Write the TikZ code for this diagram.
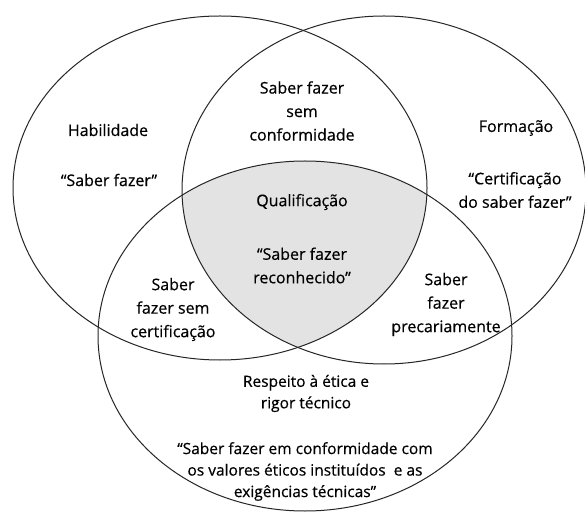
\documentclass[tikz,border=0pt]{standalone}
\usepackage{fontspec}
\setmainfont{Open Sans}
\newfontfamily\lblfont{Open Sans}[FakeBold=0.5]
\begin{document}
\begin{tikzpicture}[x=1pt,y=1pt,
  lbl/.style={font=\lblfont\fontsize{16}{23.5}\selectfont, align=center, inner sep=0pt},
  lblq/.style={font=\lblfont\fontsize{15.5}{21.5}\selectfont, align=center, inner sep=0pt},
  ring/.style={draw=black!85, line width=1pt}]
\useasboundingbox (0,0) rectangle (585,514);
\fill[white] (0,0) rectangle (585,514);
% shaded common region
\begin{scope}
  \clip (220,326) ellipse [x radius=207, y radius=172];
  \clip (384,324) ellipse [x radius=202, y radius=174];
  \fill[black!11] (305,178) ellipse [x radius=207, y radius=175];
\end{scope}
\draw[ring] (220,326) ellipse [x radius=207, y radius=172];
\draw[ring] (384,324) ellipse [x radius=202, y radius=174];
\draw[ring] (305,178) ellipse [x radius=207, y radius=175];
% labels
\node[lbl] (sem) at (302,403) {Saber fazer\\sem\\conformidade};
\node[lbl] (hab) at (108,384) {Habilidade};
\node[lbl] (habq) at (109,334) {“Saber fazer”};
\node[lbl] (form) at (516,386) {Formação};
\node[lbl] (cert) at (515,324) {“Certificação\\do saber fazer”};
\node[lbl] (qual) at (302,312) {Qualificação};
\node[lbl] (srec) at (302,248.5) {“Saber fazer\\reconhecido”};
\node[lbl] (sfsc) at (173,204.5) {Saber\\fazer sem\\certificação};
\node[lbl] (sfp) at (446,209.5) {Saber\\fazer\\precariamente};
\node[lblq] (resp) at (306,120.5) {Respeito à ética e\\rigor técnico};
\node[lblq] (quote) at (305,42.5) {“Saber fazer em conformidade com\\os valores éticos instituídos\ \ e as\\exigências técnicas”};
\end{tikzpicture}
\end{document}
